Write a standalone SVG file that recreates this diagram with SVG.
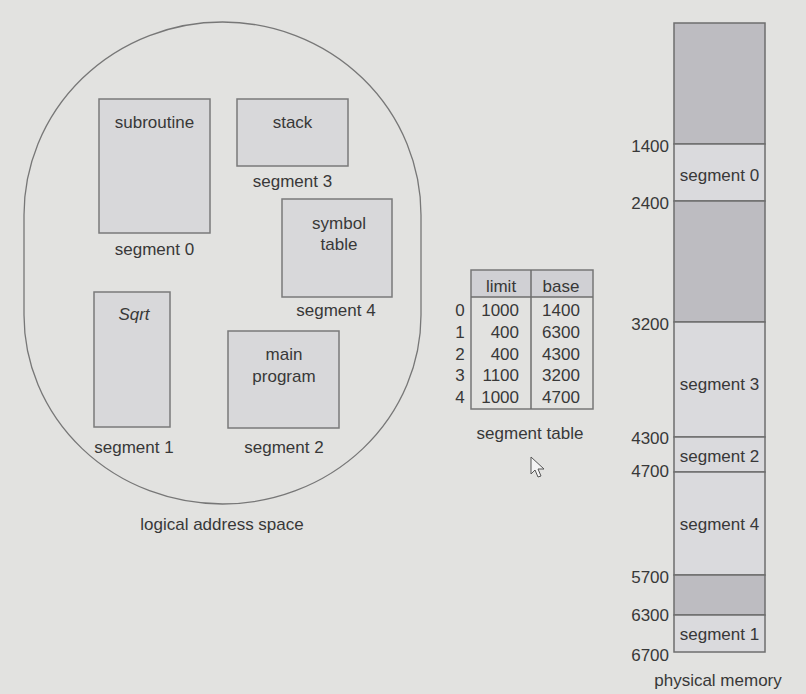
<svg xmlns="http://www.w3.org/2000/svg" width="806" height="694" viewBox="0 0 806 694">
<style>
text{font-family:"Liberation Sans",Arial,sans-serif;font-size:17px;fill:#383838}
.m{text-anchor:middle}
.e{text-anchor:end}
.box{fill:#d8d8da;stroke:#7a7a7a;stroke-width:1.5}
.dark{fill:#bdbcc1;stroke:#6e6e6e;stroke-width:1.5}
.light{fill:#dadadd;stroke:#6e6e6e;stroke-width:1.5}
.ln{stroke:#6e6e6e;stroke-width:1.5;fill:none}
</style>
<rect width="806" height="694" fill="#e2e2e0"/>
<g id="logical-space">
<path d="M24,215 A198.5,193 0 0 1 421,215 L421,315 A198.5,189 0 0 1 24,315 Z" fill="none" stroke="#777" stroke-width="1.3"/>
<text class="m" x="222" y="530">logical address space</text>
</g>
<g id="seg0-subroutine">
<rect class="box" x="99" y="99" width="111" height="134"/>
<text class="m" x="154.5" y="128">subroutine</text>
<text class="m" x="154.5" y="255">segment 0</text>
</g>
<g id="seg3-stack">
<rect class="box" x="237" y="99" width="111" height="67"/>
<text class="m" x="292.5" y="128">stack</text>
<text class="m" x="292.5" y="187">segment 3</text>
</g>
<g id="seg4-symbol">
<rect class="box" x="282" y="199" width="110" height="98"/>
<text class="m" x="339" y="229">symbol</text>
<text class="m" x="339" y="250">table</text>
<text class="m" x="336" y="316">segment 4</text>
</g>
<g id="seg1-sqrt">
<rect class="box" x="94" y="292" width="76" height="135"/>
<text class="m" x="134" y="320" font-style="italic">Sqrt</text>
<text class="m" x="134" y="453">segment 1</text>
</g>
<g id="seg2-main">
<rect class="box" x="228" y="331" width="111" height="97"/>
<text class="m" x="284" y="360">main</text>
<text class="m" x="284" y="382">program</text>
<text class="m" x="284" y="453">segment 2</text>
</g>
<g id="segment-table">
<rect x="471" y="270" width="122" height="27" fill="#d0d0d4"/>
<rect x="471" y="270" width="122" height="139" fill="none" stroke="#777" stroke-width="1.5"/>
<line class="ln" x1="471" y1="297" x2="593" y2="297"/>
<line class="ln" x1="531" y1="270" x2="531" y2="409"/>
<text class="m" x="501" y="292">limit</text>
<text class="m" x="561" y="292">base</text>
<text class="m" x="460" y="316">0</text>
<text class="m" x="460" y="338">1</text>
<text class="m" x="460" y="360">2</text>
<text class="m" x="460" y="381">3</text>
<text class="m" x="460" y="403">4</text>
<text class="e" x="519" y="316">1000</text>
<text class="e" x="519" y="338">400</text>
<text class="e" x="519" y="360">400</text>
<text class="e" x="519" y="381">1100</text>
<text class="e" x="519" y="403">1000</text>
<text class="m" x="561" y="316">1400</text>
<text class="m" x="561" y="338">6300</text>
<text class="m" x="561" y="360">4300</text>
<text class="m" x="561" y="381">3200</text>
<text class="m" x="561" y="403">4700</text>
<text class="m" x="530" y="439">segment table</text>
</g>
<g id="physical-memory">
<rect class="dark" x="674" y="23" width="91" height="121"/>
<rect class="light" x="674" y="144" width="91" height="57"/>
<rect class="dark" x="674" y="201" width="91" height="121"/>
<rect class="light" x="674" y="322" width="91" height="115"/>
<rect class="light" x="674" y="437" width="91" height="35"/>
<rect class="light" x="674" y="472" width="91" height="103"/>
<rect class="dark" x="674" y="575" width="91" height="40"/>
<rect class="light" x="674" y="615" width="91" height="37"/>
<text class="m" x="719.5" y="181">segment 0</text>
<text class="m" x="719.5" y="390">segment 3</text>
<text class="m" x="719.5" y="462">segment 2</text>
<text class="m" x="719.5" y="530">segment 4</text>
<text class="m" x="719.5" y="640">segment 1</text>
<text class="e" x="669" y="152">1400</text>
<text class="e" x="669" y="209">2400</text>
<text class="e" x="669" y="330">3200</text>
<text class="e" x="669" y="444">4300</text>
<text class="e" x="669" y="477">4700</text>
<text class="e" x="669" y="583">5700</text>
<text class="e" x="669" y="621">6300</text>
<text class="e" x="669" y="661">6700</text>
<text class="m" x="718" y="686">physical memory</text>
</g>
<path d="M531,457 L531,474 L535,470 L538,477 L541,476 L538,469 L544,469 Z" fill="#f4f4f4" stroke="#555" stroke-width="1"/>
</svg>
